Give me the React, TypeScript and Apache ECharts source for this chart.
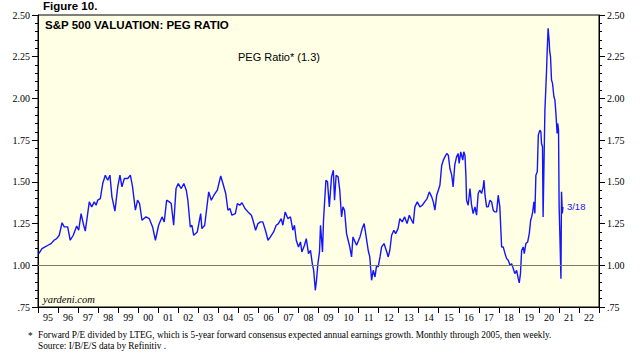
import React, { useEffect, useRef } from "react";
import * as echarts from "echarts";

const yearLabels = [
  "95", "96", "97", "98", "99", "00", "01", "02", "03", "04", "05", "06", "07", "08",
  "09", "10", "11", "12", "13", "14", "15", "16", "17", "18", "19", "20", "21", "22",
];

const dates = [
  1995.04, 1995.2, 1995.35, 1995.5, 1995.65, 1995.8, 1995.93, 1996.06, 1996.2, 1996.31,
  1996.48, 1996.61, 1996.76, 1996.93, 1997.03, 1997.15, 1997.28, 1997.36, 1997.56, 1997.68,
  1997.81, 1997.9, 1997.98, 1998.11, 1998.23, 1998.36, 1998.48, 1998.59, 1998.69, 1998.84,
  1998.98, 1999.09, 1999.19, 1999.31, 1999.48, 1999.61, 1999.72, 1999.86, 1999.97, 2000.07,
  2000.19, 2000.39, 2000.55, 2000.72, 2000.86, 2001.02, 2001.19, 2001.3, 2001.42, 2001.55,
  2001.65, 2001.77, 2001.89, 2002.0, 2002.15, 2002.28, 2002.4, 2002.48, 2002.6, 2002.68,
  2002.77, 2002.95, 2003.12, 2003.18, 2003.32, 2003.52, 2003.65, 2003.78, 2003.95, 2004.12,
  2004.23, 2004.37, 2004.48, 2004.58, 2004.68, 2004.85, 2004.95, 2005.07, 2005.18, 2005.33,
  2005.48, 2005.65, 2005.73, 2005.86, 2005.98, 2006.1, 2006.22, 2006.35, 2006.48, 2006.6,
  2006.76, 2006.89, 2007.0, 2007.14, 2007.22, 2007.34, 2007.47, 2007.6, 2007.72, 2007.8,
  2007.89, 2008.0, 2008.1, 2008.17, 2008.3, 2008.39, 2008.5, 2008.6, 2008.69, 2008.76,
  2008.84, 2008.9, 2008.97, 2009.05, 2009.1, 2009.2, 2009.25, 2009.37, 2009.45, 2009.54,
  2009.65, 2009.74, 2009.8, 2009.88, 2009.98, 2010.06, 2010.15, 2010.22, 2010.3, 2010.4,
  2010.48, 2010.56, 2010.65, 2010.72, 2010.9, 2011.07, 2011.18, 2011.28, 2011.38, 2011.48,
  2011.56, 2011.65, 2011.73, 2011.82, 2011.9, 2011.98, 2012.07, 2012.15, 2012.27, 2012.38,
  2012.48, 2012.56, 2012.65, 2012.76, 2012.85, 2012.97, 2013.06, 2013.18, 2013.3, 2013.42,
  2013.53, 2013.65, 2013.73, 2013.81, 2013.93, 2014.06, 2014.18, 2014.3, 2014.42, 2014.53,
  2014.65, 2014.73, 2014.81, 2014.9, 2014.98, 2015.06, 2015.15, 2015.23, 2015.31, 2015.4,
  2015.48, 2015.56, 2015.65, 2015.72, 2015.8, 2015.89, 2015.97, 2016.02, 2016.1, 2016.2,
  2016.25, 2016.31, 2016.36, 2016.39, 2016.47, 2016.56, 2016.64, 2016.72, 2016.81, 2016.89,
  2016.97, 2017.05, 2017.14, 2017.22, 2017.26, 2017.31, 2017.39, 2017.47, 2017.56, 2017.64,
  2017.72, 2017.8, 2017.89, 2017.97, 2018.05, 2018.14, 2018.22, 2018.31, 2018.39, 2018.47,
  2018.56, 2018.64, 2018.72, 2018.8, 2018.89, 2018.97, 2019.02, 2019.08, 2019.14, 2019.22,
  2019.27, 2019.35, 2019.44, 2019.52, 2019.59, 2019.64, 2019.69, 2019.75, 2019.8, 2019.85,
  2019.92, 2019.97, 2020.05, 2020.1, 2020.13, 2020.18, 2020.21, 2020.3, 2020.35, 2020.38,
  2020.41, 2020.46, 2020.51, 2020.54, 2020.58, 2020.63, 2020.68, 2020.75, 2020.8, 2020.85,
  2020.88, 2020.91, 2020.94, 2020.98, 2021.01, 2021.05, 2021.1, 2021.13, 2021.17, 2021.2,
];

const pegValues = [
  1.07, 1.1, 1.11, 1.12, 1.13, 1.15, 1.16, 1.18, 1.255, 1.23,
  1.23, 1.15, 1.18, 1.235, 1.21, 1.31, 1.24, 1.205, 1.38, 1.35,
  1.38, 1.36, 1.39, 1.4, 1.49, 1.54, 1.51, 1.54, 1.41, 1.325,
  1.47, 1.54, 1.47, 1.52, 1.52, 1.54, 1.47, 1.33, 1.39, 1.37,
  1.27, 1.29, 1.28, 1.23, 1.15, 1.24, 1.29, 1.26, 1.39, 1.38,
  1.37, 1.24, 1.46, 1.49, 1.46, 1.49, 1.45, 1.39, 1.23, 1.24,
  1.18, 1.2, 1.31, 1.22, 1.24, 1.44, 1.39, 1.42, 1.45, 1.535,
  1.49, 1.43, 1.33, 1.34, 1.3, 1.31, 1.37, 1.36, 1.375, 1.34,
  1.32, 1.3, 1.27, 1.21, 1.25, 1.26, 1.26, 1.21, 1.15, 1.17,
  1.2, 1.24, 1.25, 1.28, 1.24, 1.32, 1.28, 1.29, 1.21, 1.24,
  1.15, 1.11, 1.14, 1.08, 1.12, 1.16, 1.07, 1.09, 1.01, 0.97,
  0.85, 0.91, 1.01, 1.08, 1.24, 1.08, 1.27, 1.51, 1.5, 1.35,
  1.53, 1.57, 1.39, 1.54, 1.53, 1.45, 1.29, 1.35, 1.33, 1.19,
  1.15, 1.11, 1.05, 1.17, 1.12, 1.17, 1.22, 1.25, 1.17, 1.09,
  1.05, 0.91, 0.97, 0.93, 1.0, 0.99, 1.05, 1.11, 1.13, 1.09,
  1.05, 1.09, 1.18, 1.21, 1.19, 1.22, 1.28, 1.26, 1.29, 1.25,
  1.3, 1.27, 1.25, 1.35, 1.38, 1.35, 1.36, 1.38, 1.4, 1.44,
  1.41, 1.38, 1.33, 1.42, 1.45, 1.48, 1.6, 1.63, 1.65, 1.67,
  1.66, 1.58, 1.54, 1.47, 1.6, 1.65, 1.67, 1.61, 1.68, 1.63,
  1.68, 1.66, 1.53, 1.39, 1.36, 1.46, 1.36, 1.31, 1.35, 1.3,
  1.43, 1.45, 1.43, 1.47, 1.51, 1.42, 1.35, 1.35, 1.39, 1.38,
  1.33, 1.32, 1.32, 1.42, 1.35, 1.11, 1.11, 1.07, 1.04, 1.03,
  1.0, 1.01, 0.98, 0.95, 0.97, 0.92, 0.895, 0.95, 1.09, 1.11,
  1.07, 1.13, 1.14, 1.19, 1.27, 1.29, 1.32, 1.38, 1.31, 1.54,
  1.56, 1.78, 1.81, 1.8, 1.73, 1.71, 1.29, 1.93, 2.07, 2.16,
  2.27, 2.42, 2.35, 2.28, 2.25, 2.11, 2.09, 2.01, 1.99, 1.91,
  1.91, 1.79, 1.85, 1.81, 1.35, 1.17, 0.92, 1.44, 1.31, 1.35,
];

const SANS = "Liberation Sans, Arial, Helvetica, sans-serif";
const SERIF = "Liberation Serif, Times New Roman, serif";

function yAxisDef(position: "left" | "right") {
  return {
    type: "value",
    position,
    min: 0.75,
    max: 2.5,
    interval: 0.25,
    axisLine: { show: true, lineStyle: { color: "#000", width: 1 } },
    axisTick: { show: true, length: 6, lineStyle: { color: "#000" } },
    minorTick: { show: true, splitNumber: 5, length: 3, lineStyle: { color: "#000" } },
    splitLine: { show: false },
    axisLabel: {
      color: "#000",
      fontFamily: SERIF,
      fontSize: 10,
      margin: 8,
      formatter: (v: number) => v.toFixed(2).replace(/^0/, ""),
    },
  };
}

export default function App() {
  const ref = useRef<HTMLDivElement>(null);
  useEffect(() => {
    if (!ref.current) return;
    const chart = echarts.init(ref.current, null, { renderer: "svg" });
    const data = dates.map((d, i) => [d, pegValues[i]]);
    chart.setOption({
      animation: false,
      backgroundColor: "#ffffff",
      grid: {
        left: 38,
        right: 41,
        top: 15,
        bottom: 53,
        show: true,
        backgroundColor: "#FFFFE6",
        borderColor: "#000",
        borderWidth: 1,
      },
      xAxis: [
        {
          type: "category",
          data: yearLabels,
          boundaryGap: true,
          position: "bottom",
          axisLine: { show: true, lineStyle: { color: "#000" } },
          axisTick: { show: true, length: 6, lineStyle: { color: "#000" } },
          axisLabel: { color: "#000", fontFamily: SERIF, fontSize: 10, margin: 5, interval: 0 },
          splitLine: { show: false },
        },
        { type: "value", min: 1995, max: 2023, show: false },
      ],
      yAxis: [yAxisDef("left"), yAxisDef("right")],
      series: [
        {
          type: "line",
          xAxisIndex: 1,
          yAxisIndex: 0,
          data,
          showSymbol: false,
          lineStyle: { color: "#1414ff", width: 1.4 },
          endLabel: {
            show: true,
            formatter: "3/18",
            color: "#1414ff",
            fontFamily: SANS,
            fontSize: 9.5,
            distance: 4,
          },
          markLine: {
            silent: true,
            symbol: "none",
            label: { show: false },
            lineStyle: { color: "#7a7a6a", width: 1, type: "solid" },
            data: [{ yAxis: 1 }],
          },
        },
      ],
      graphic: [
        {
          type: "text",
          left: 43,
          top: 0,
          style: { text: "Figure 10.", font: `bold 11.5px ${SANS}`, fill: "#000" },
        },
        {
          type: "text",
          left: 45,
          top: 19,
          style: { text: "S&P 500 VALUATION: PEG RATIO", font: `bold 11.5px ${SANS}`, fill: "#000" },
        },
        {
          type: "text",
          left: 238,
          top: 51,
          style: { text: "PEG Ratio* (1.3)", font: `11px ${SANS}`, fill: "#000" },
        },
        {
          type: "text",
          left: 43,
          top: 294,
          style: { text: "yardeni.com", font: `italic 10.5px ${SERIF}`, fill: "#000" },
        },
        {
          type: "text",
          left: 28,
          top: 331,
          style: { text: "*", font: `9.3px ${SERIF}`, fill: "#000" },
        },
        {
          type: "text",
          left: 38,
          top: 330,
          style: {
            text: "Forward P/E divided by LTEG, which is 5-year forward consensus expected annual earnings growth. Monthly through 2005, then weekly.",
            font: `9.3px ${SERIF}`,
            fill: "#000",
          },
        },
        {
          type: "text",
          left: 38,
          top: 341,
          style: { text: "Source: I/B/E/S data by Refinitiv .", font: `9.3px ${SERIF}`, fill: "#000" },
        },
      ],
    });
    return () => chart.dispose();
  }, []);
  return (
    <div
      ref={ref}
      style={{ position: "fixed", left: 0, top: 0, width: 640, height: 360, background: "#fff" }}
    />
  );
}
